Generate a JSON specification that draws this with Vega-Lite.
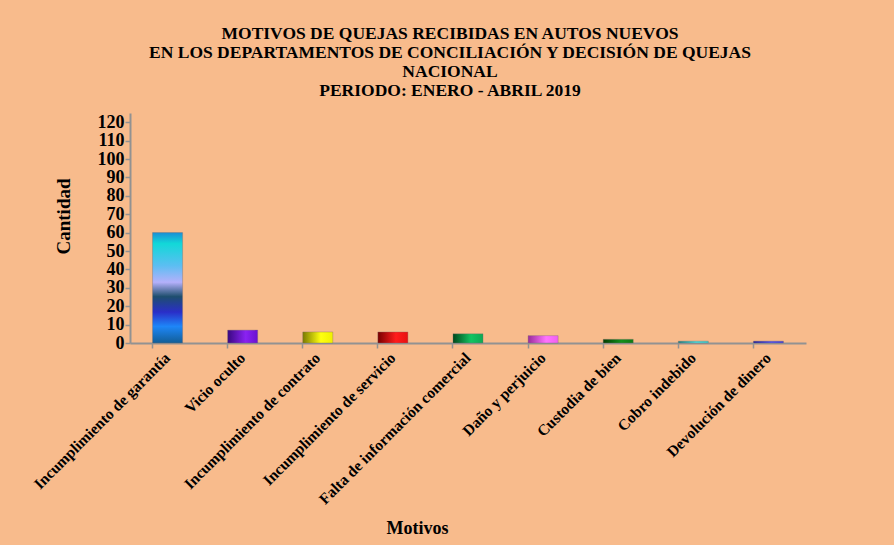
{
  "$schema": "https://vega.github.io/schema/vega-lite/v6.json",
  "autosize": {"type": "none"},
  "width": 676,
  "height": 230,
  "padding": {"left": 130, "top": 113, "right": 88, "bottom": 202},
  "background": "#f8bb8c",
  "config": {
    "view": {"stroke": null},
    "font": "Liberation Serif",
    "bar": {"stroke": "#7a6a6a", "strokeWidth": 0.6, "strokeOpacity": 0.6}
  },
  "title": {
    "text": ["MOTIVOS DE QUEJAS RECIBIDAS EN AUTOS NUEVOS", "EN LOS DEPARTAMENTOS DE CONCILIACIÓN Y DECISIÓN DE QUEJAS", "NACIONAL", "PERIODO: ENERO - ABRIL  2019"],
    "font": "Liberation Serif",
    "fontSize": 17.5,
    "fontWeight": "bold",
    "lineHeight": 19,
    "color": "#000000",
    "anchor": "middle",
    "dx": -18,
    "offset": 14
  },
  "data": {
    "values": [
      {"motivo": "Incumplimiento de garantía", "cantidad": 60},
      {"motivo": "Vicio oculto", "cantidad": 7},
      {"motivo": "Incumplimiento de contrato", "cantidad": 6},
      {"motivo": "Incumplimiento de servicio", "cantidad": 6},
      {"motivo": "Falta de información comercial", "cantidad": 5},
      {"motivo": "Daño y perjuicio", "cantidad": 4},
      {"motivo": "Custodia de bien", "cantidad": 2},
      {"motivo": "Cobro indebido", "cantidad": 1},
      {"motivo": "Devolución de dinero", "cantidad": 1}
    ]
  },
  "encoding": {
    "x": {
      "field": "motivo",
      "type": "nominal",
      "sort": ["Incumplimiento de garantía", "Vicio oculto", "Incumplimiento de contrato", "Incumplimiento de servicio", "Falta de información comercial", "Daño y perjuicio", "Custodia de bien", "Cobro indebido", "Devolución de dinero"],
      "scale": {"paddingInner": 0.6, "paddingOuter": 0.3},
      "axis": {
        "title": "Motivos",
        "titleFont": "Liberation Serif",
        "titleFontSize": 18,
        "titleFontWeight": "bold",
        "titleColor": "#000000",
        "titleX": 287,
        "titleY": 190,
        "titleBaseline": "alphabetic",
        "labelAngle": -45,
        "labelAlign": "right",
        "labelBaseline": "middle",
        "labelFont": "Liberation Serif",
        "labelFontSize": 15.5,
        "labelFontWeight": "bold",
        "labelColor": "#000000",
        "labelPadding": 7,
        "labelOverlap": false,
        "labelLimit": 400,
        "bandPosition": 0,
        "domainColor": "#929292",
        "domainWidth": 2,
        "tickColor": "#929292",
        "tickWidth": 1.5,
        "tickSize": 5
      }
    },
    "y": {
      "field": "cantidad",
      "type": "quantitative",
      "scale": {"domain": [0, 125], "nice": false},
      "axis": {
        "title": "Cantidad",
        "titleFont": "Liberation Serif",
        "titleFontSize": 19,
        "titleFontWeight": "bold",
        "titleColor": "#000000",
        "titlePadding": 24,
        "titleY": 103,
        "values": [0, 10, 20, 30, 40, 50, 60, 70, 80, 90, 100, 110, 120],
        "labelFont": "Liberation Serif",
        "labelFontSize": 18,
        "labelFontWeight": "bold",
        "labelColor": "#000000",
        "labelPadding": 1,
        "grid": false,
        "domainColor": "#929292",
        "domainWidth": 2,
        "tickColor": "#929292",
        "tickWidth": 1.5,
        "tickSize": 5
      }
    }
  },
  "layer": [
    {
      "transform": [{"filter": "datum.motivo === 'Incumplimiento de garantía'"}],
      "mark": {"type": "bar", "color": {"gradient": "linear", "x1": 0, "y1": 0, "x2": 0, "y2": 1, "stops": [
        {"offset": 0, "color": "#1b8fd6"},
        {"offset": 0.1, "color": "#12d8d8"},
        {"offset": 0.3, "color": "#5cbef2"},
        {"offset": 0.45, "color": "#b4b0fa"},
        {"offset": 0.58, "color": "#1e4e6e"},
        {"offset": 0.72, "color": "#2a2ec8"},
        {"offset": 0.85, "color": "#1e86f8"},
        {"offset": 1, "color": "#125e96"}
      ]}}
    },
    {
      "transform": [{"filter": "datum.motivo === 'Vicio oculto'"}],
      "mark": {"type": "bar", "color": {"gradient": "linear", "x1": 0, "y1": 0, "x2": 1, "y2": 0, "stops": [
        {"offset": 0, "color": "#3a0880"}, {"offset": 0.6, "color": "#8a22f2"}, {"offset": 1, "color": "#6a10d0"}]}}
    },
    {
      "transform": [{"filter": "datum.motivo === 'Incumplimiento de contrato'"}],
      "mark": {"type": "bar", "color": {"gradient": "linear", "x1": 0, "y1": 0, "x2": 1, "y2": 0, "stops": [
        {"offset": 0, "color": "#7a7a00"}, {"offset": 0.6, "color": "#ffff10"}, {"offset": 1, "color": "#f0f000"}]}}
    },
    {
      "transform": [{"filter": "datum.motivo === 'Incumplimiento de servicio'"}],
      "mark": {"type": "bar", "color": {"gradient": "linear", "x1": 0, "y1": 0, "x2": 1, "y2": 0, "stops": [
        {"offset": 0, "color": "#780000"}, {"offset": 0.6, "color": "#ff1c1c"}, {"offset": 1, "color": "#e81010"}]}}
    },
    {
      "transform": [{"filter": "datum.motivo === 'Falta de información comercial'"}],
      "mark": {"type": "bar", "color": {"gradient": "linear", "x1": 0, "y1": 0, "x2": 1, "y2": 0, "stops": [
        {"offset": 0, "color": "#00481c"}, {"offset": 0.6, "color": "#12c462"}, {"offset": 1, "color": "#0ea854"}]}}
    },
    {
      "transform": [{"filter": "datum.motivo === 'Daño y perjuicio'"}],
      "mark": {"type": "bar", "color": {"gradient": "linear", "x1": 0, "y1": 0, "x2": 1, "y2": 0, "stops": [
        {"offset": 0, "color": "#9a2c9a"}, {"offset": 0.6, "color": "#ff72ff"}, {"offset": 1, "color": "#f060f0"}]}}
    },
    {
      "transform": [{"filter": "datum.motivo === 'Custodia de bien'"}],
      "mark": {"type": "bar", "color": {"gradient": "linear", "x1": 0, "y1": 0, "x2": 1, "y2": 0, "stops": [
        {"offset": 0, "color": "#003c00"}, {"offset": 0.6, "color": "#14901c"}, {"offset": 1, "color": "#0e7a14"}]}}
    },
    {
      "transform": [{"filter": "datum.motivo === 'Cobro indebido'"}],
      "mark": {"type": "bar", "color": {"gradient": "linear", "x1": 0, "y1": 0, "x2": 1, "y2": 0, "stops": [
        {"offset": 0, "color": "#1e8080"}, {"offset": 0.6, "color": "#46e2e2"}, {"offset": 1, "color": "#38cccc"}]}}
    },
    {
      "transform": [{"filter": "datum.motivo === 'Devolución de dinero'"}],
      "mark": {"type": "bar", "color": {"gradient": "linear", "x1": 0, "y1": 0, "x2": 1, "y2": 0, "stops": [
        {"offset": 0, "color": "#20209c"}, {"offset": 0.6, "color": "#5252f2"}, {"offset": 1, "color": "#4040d8"}]}}
    }
  ]
}
